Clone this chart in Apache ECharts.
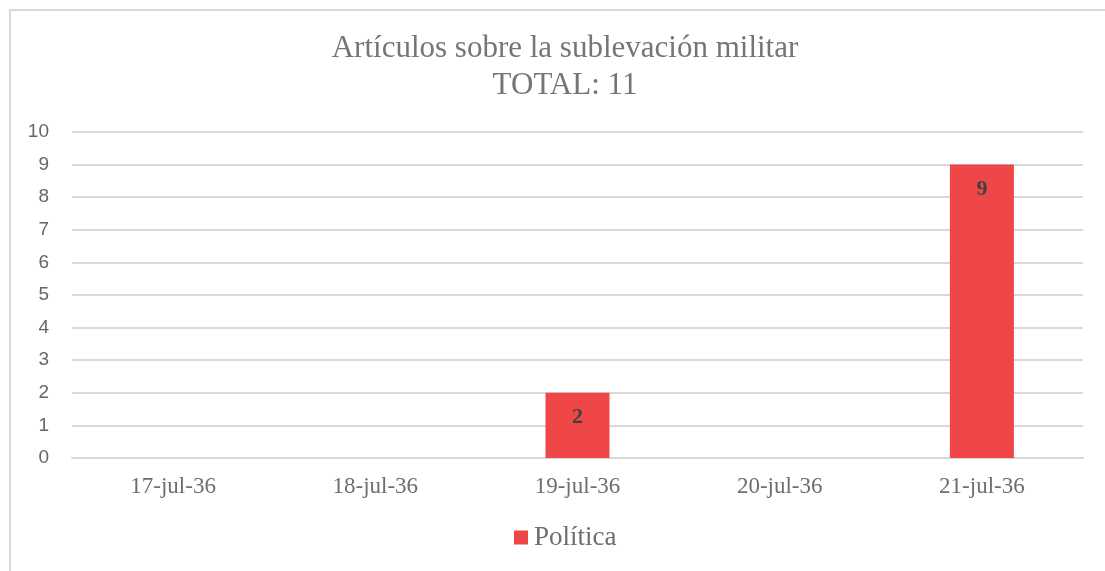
<!DOCTYPE html>
<html>
<head>
<meta charset="utf-8">
<script src="https://cdn.jsdelivr.net/npm/echarts@6/dist/echarts.min.js"></script>
<style>
html,body{margin:0;padding:0;background:#fff;overflow:hidden;}
#frame{position:absolute;left:9px;top:9px;width:1120px;height:600px;border:2px solid #d9d9d9;box-sizing:border-box;}
#chart{position:absolute;left:0;top:0;width:1105px;height:571px;}
</style>
</head>
<body>
<div id="frame"></div>
<div id="chart"></div>
<script>
var titleLines = ['Artículos sobre la sublevación militar', 'TOTAL: 11'];
var categories = ['17-jul-36', '18-jul-36', '19-jul-36', '20-jul-36', '21-jul-36'];
var seriesName = 'Política';
var values = [0, 0, 2, 0, 9];
var yTicks = [0, 10, 1];

var chart = echarts.init(document.getElementById('chart'));
chart.setOption({
  animation: false,
  title: {
    text: titleLines.join('\n'),
    left: 560,
    textAlign: 'center',
    top: 25,
    textStyle: {
      fontFamily: 'Liberation Serif',
      fontSize: 31,
      fontWeight: 'normal',
      color: '#757575',
      lineHeight: 37
    }
  },
  legend: {
    data: [seriesName],
    top: 519,
    left: 509,
    icon: 'rect',
    itemWidth: 14,
    itemHeight: 14,
    textStyle: {
      fontFamily: 'Liberation Serif',
      fontSize: 27,
      color: '#6e6e6e',
      padding: [0,0,0,1]
    }
  },
  grid: {
    left: 72,
    right: 22,
    top: 132,
    bottom: 113,
    containLabel: false
  },
  xAxis: {
    type: 'category',
    data: categories,
    axisLine: { show: true, lineStyle: { color: '#d9d9d9', width: 2 } },
    axisTick: { show: false },
    axisLabel: {
      fontFamily: 'Liberation Serif',
      fontSize: 23,
      color: '#6e6e6e',
      margin: 17
    }
  },
  yAxis: {
    type: 'value',
    min: yTicks[0],
    max: yTicks[1],
    interval: yTicks[2],
    axisLine: { show: false },
    axisTick: { show: false },
    splitLine: { lineStyle: { color: '#d9d9d9', width: 2 } },
    axisLabel: {
      fontFamily: 'Liberation Sans',
      fontSize: 19,
      color: '#666666',
      margin: 23
    }
  },
  series: [{
    name: seriesName,
    type: 'bar',
    data: values,
    barWidth: 64,
    itemStyle: { color: '#EF4747' },
    label: {
      show: true,
      position: 'insideTop',
      distance: 14,
      fontFamily: 'Liberation Serif',
      fontWeight: 'bold',
      fontSize: 22,
      color: '#404040',
      formatter: function (p) { return p.value > 0 ? p.value : ''; }
    }
  }]
});
</script>
</body>
</html>
